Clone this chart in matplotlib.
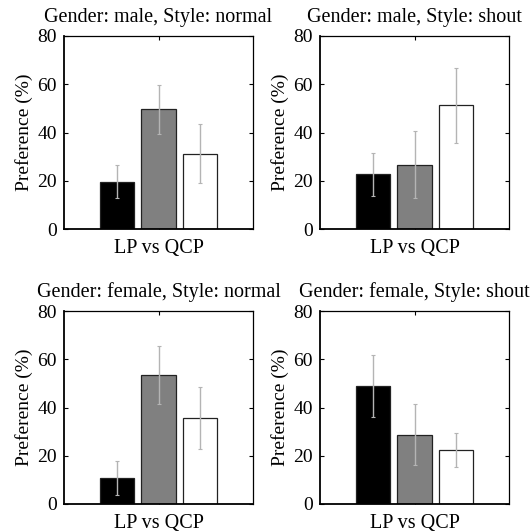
import numpy as np
import matplotlib
matplotlib.use("Agg")
import matplotlib.pyplot as plt

plt.rcParams['font.family'] = ['Liberation Serif', 'DejaVu Serif']

titles = ["Gender: male, Style: normal", "Gender: male, Style: shout",
          "Gender: female, Style: normal", "Gender: female, Style: shout"]
category = "LP vs QCP"
# black, gray, white bars per panel
means = [[19.6, 49.7, 31.2],
         [22.7, 26.7, 51.3],
         [10.9, 53.6, 35.6],
         [48.9, 28.8, 22.4]]
err_lo = [[12.7, 39.3, 19.2],
          [13.7, 12.7, 35.6],
          [3.7, 41.4, 22.6],
          [36.0, 16.3, 15.2]]
err_hi = [[26.4, 59.6, 43.4],
          [31.4, 40.5, 66.9],
          [18.0, 65.6, 48.7],
          [61.6, 41.4, 29.6]]
yticks = [0, 20, 40, 60, 80]

colors = ['black', '#808080', 'white']
offsets = np.array([-0.222, 0.0, 0.222])

fig = plt.figure(figsize=(5.32, 5.32), dpi=100)
W, H = 532.0, 532.0
boxes = [(64, 36), (320, 36), (64, 311), (320, 311)]
aw, ah = 189, 193

for i, (x0, y0) in enumerate(boxes):
    ax = fig.add_axes([x0 / W, 1 - (y0 + ah) / H, aw / W, ah / H])
    m = np.array(means[i])
    lo = m - np.array(err_lo[i])
    hi = np.array(err_hi[i]) - m
    xs = 1 + offsets
    ax.bar(xs, m, width=0.18, color=colors, edgecolor='#222222', linewidth=0.9, zorder=2)
    ax.errorbar(xs, m, yerr=[lo, hi], fmt='none', ecolor='#b4b4b4', elinewidth=1.0,
                capsize=1.5, capthick=0.8, zorder=3)
    ax.set_xlim(0.5, 1.5)
    ax.set_ylim(0, 80)
    ax.set_yticks(yticks)
    ax.set_xticks([1])
    ax.set_xticklabels([category])
    ax.tick_params(direction='in', top=True, right=True, labelsize=14, length=3, pad=5)
    ax.tick_params(axis='x', labelsize=14.5, pad=7)
    ax.set_ylabel("Preference (%)", fontsize=14, labelpad=3)
    ax.set_title(titles[i], fontsize=14.5, pad=10)
    for s in ax.spines.values():
        s.set_linewidth(0.9)
    ax.spines['left'].set_linewidth(1.3)
    ax.spines['bottom'].set_linewidth(1.3)

fig.savefig("out.png", dpi=100)
